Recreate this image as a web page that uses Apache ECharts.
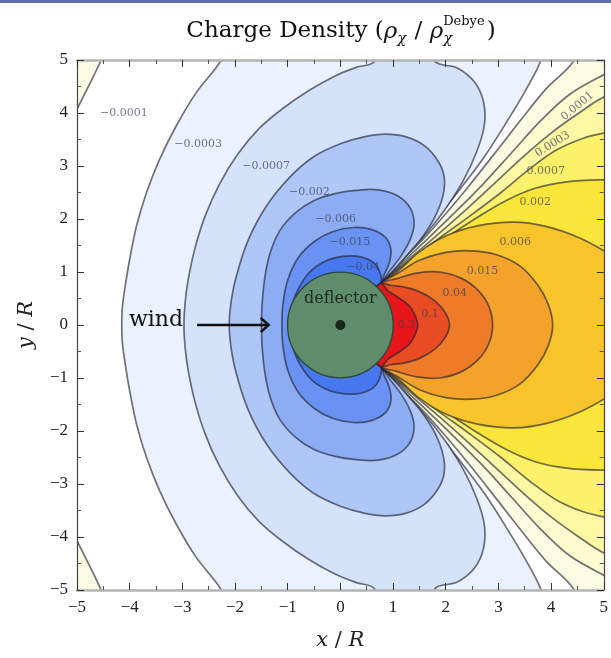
<!DOCTYPE html>
<html>
<head>
<meta charset="utf-8">
<script src="https://cdn.jsdelivr.net/npm/echarts@6/dist/echarts.min.js"></script>
<style>
  html, body { margin: 0; padding: 0; background: #ffffff; }
  #chart { width: 611px; height: 658px; }
</style>
</head>
<body>
<div id="chart"></div>
<script>
// Charge density around a deflector in a flowing wind: filled contour map.
// Each contour is stored as its upper half (y >= 0), running from the junction
// point on the deflector flank out to the x axis; the lower half is its mirror image.

const junction = [0.76, 0.78];

// negative contours (upper halves)
const cNeg0001 = [junction, [1.15, 1.2], [1.57, 1.62], [2.0, 2.1], [2.42, 2.6], [2.9, 3.2], [3.45, 3.9], [3.9, 4.45], [4.44, 5.0],
  [4.6, 5.6], [-4.3, 5.6], [-4.54, 5.0], [-5.0, 4.07], [-5.5, 3.07], [-5.6, 0]];
const cNeg0003 = [junction, [1.1, 1.2], [1.5, 1.62], [1.9, 2.1], [2.3, 2.6], [2.75, 3.2], [3.2, 3.9], [3.5, 4.4], [3.81, 5.0],
  [3.95, 5.6], [-2.0, 5.6], [-2.26, 5.0], [-2.74, 4.38], [-3.12, 3.75], [-3.43, 3.13], [-3.68, 2.5], [-3.87, 1.87],
  [-4.0, 1.24], [-4.09, 0.7], [-4.14, 0.32], [-4.15, 0]];
const cNeg0007 = [junction, [1.0, 1.05], [1.3, 1.38], [1.65, 1.75], [2.0, 2.2], [2.33, 2.72], [2.58, 3.25], [2.73, 3.75],
  [2.72, 4.2], [2.55, 4.58], [2.22, 4.85], [1.79, 4.98], [1.72, 5.6], [0.7, 5.6], [0.65, 4.98], [0.3, 4.86], [-0.1, 4.7],
  [-0.59, 4.43], [-1.1, 4.08], [-1.55, 3.7], [-1.95, 3.22], [-2.3, 2.65], [-2.57, 2.05], [-2.76, 1.45], [-2.89, 0.85],
  [-2.95, 0.4], [-2.97, 0]];
const cNeg002 = [junction, [0.98, 1.0], [1.25, 1.3], [1.55, 1.65], [1.8, 2.05], [1.95, 2.45], [1.97, 2.8], [1.85, 3.1],
  [1.6, 3.38], [1.25, 3.55], [0.85, 3.6], [0.45, 3.55], [0.0, 3.42], [-0.5, 3.18], [-0.95, 2.8], [-1.4, 2.25],
  [-1.75, 1.6], [-1.98, 0.9], [-2.08, 0.4], [-2.11, 0]];
const cNeg006 = [junction, [0.92, 1.0], [1.15, 1.3], [1.32, 1.6], [1.4, 1.9], [1.33, 2.2], [1.1, 2.43], [0.72, 2.55],
  [0.3, 2.54], [-0.1, 2.48], [-0.5, 2.35], [-0.85, 2.12], [-1.15, 1.78], [-1.35, 1.3], [-1.46, 0.7], [-1.5, 0]];
const cNeg015 = [junction, [0.83, 0.95], [0.93, 1.18], [0.96, 1.42], [0.86, 1.65], [0.6, 1.8], [0.25, 1.84], [-0.15, 1.76],
  [-0.5, 1.57], [-0.8, 1.27], [-1.0, 0.85], [-1.09, 0.4], [-1.11, 0]];
const cNeg04 = [junction, [0.74, 1.02], [0.6, 1.2], [0.3, 1.3], [-0.05, 1.28], [-0.32, 1.19], [-0.59, 0.99], [-0.82, 0.64],
  [-0.94, 0.28], [-0.97, 0]];

// positive contours (upper halves)
const cPos0001 = [junction, [1.2, 1.2], [1.65, 1.62], [2.15, 2.1], [2.7, 2.65], [3.25, 3.25], [3.8, 3.85], [4.35, 4.35], [5.0, 4.72],
  [5.6, 5.0], [5.6, 0]];
const cPos0003 = [junction, [1.25, 1.2], [1.75, 1.62], [2.3, 2.1], [2.9, 2.65], [3.5, 3.2], [4.0, 3.62], [4.5, 3.98], [5.0, 4.3],
  [5.6, 4.5], [5.6, 0]];
const cPos0007 = [junction, [1.3, 1.2], [1.85, 1.62], [2.45, 2.05], [3.05, 2.5], [3.6, 2.95], [4.1, 3.3], [4.6, 3.52], [5.0, 3.62],
  [5.6, 3.7], [5.6, 0]];
const cPos002 = [junction, [1.35, 1.15], [1.95, 1.6], [2.55, 2.0], [3.15, 2.35], [3.7, 2.58], [4.3, 2.7], [5.0, 2.74],
  [5.6, 2.74], [5.6, 0]];
const cPos006 = [junction, [1.1, 1.02], [1.5, 1.38], [2.0, 1.68], [2.6, 1.87], [3.3, 1.94], [3.9, 1.86], [4.5, 1.66], [5.0, 1.4],
  [5.6, 1.0], [5.6, 0]];
const cPos015 = [junction, [1.1, 0.98], [1.5, 1.22], [2.0, 1.37], [2.5, 1.4], [2.95, 1.33], [3.4, 1.12], [3.75, 0.75],
  [3.95, 0.38], [4.03, 0]];
const cPos04 = [junction, [1.05, 0.87], [1.45, 0.98], [1.88, 1.0], [2.3, 0.88], [2.62, 0.65], [2.82, 0.35], [2.89, 0]];
const cPos1 = [junction, [0.95, 0.75], [1.2, 0.72], [1.5, 0.63], [1.8, 0.45], [2.0, 0.22], [2.07, 0]];
const cPos3 = [junction, [0.9, 0.65], [1.1, 0.52], [1.3, 0.37], [1.42, 0.18], [1.47, 0]];

// band fills: region beyond each contour level
const neutralFill = '#fbfae2';
const negFills = ['#ffffff', '#ebf2fd', '#d4e2fa', '#afc7f7', '#8cadf4', '#6992f2', '#4878ef'];
const posFills = ['#fdfbd0', '#fcf7a2', '#fbf26a', '#fae63a', '#f7c42c', '#f3a22c', '#ee7b28', '#e84c22', '#e6161b'];

// contour labels: x, y, text, rotation (deg)
const contourLabels = [
  [-4.11, 4.0, '−0.0001', 0], [-2.70, 3.41, '−0.0003', 0], [-1.41, 3.0, '−0.0007', 0], [-0.59, 2.5, '−0.002', 0],
  [-0.09, 2.0, '−0.006', 0], [0.18, 1.56, '−0.015', 0], [0.43, 1.10, '−0.04', 0],
  [4.5, 4.13, '0.0001', 40], [4.03, 3.41, '0.0003', 32], [3.90, 2.9, '0.0007', 0], [3.70, 2.31, '0.002', 0],
  [3.32, 1.56, '0.006', 0], [2.70, 1.02, '0.015', 0], [2.17, 0.61, '0.04', 0], [1.70, 0.20, '0.1', 0], [1.25, 0.0, '0.3', 0]
];

// deflector: centre x, centre y, radius
const deflector = [0, 0, 1];
const deflectorText = [0, 0.5, 'deflector'];
// incoming wind arrow and its label
const windArrow = [[-2.72, 0], [-1.36, 0]];
const windText = [-3.5, 0.08, 'wind'];

const negContours = [cNeg0001, cNeg0003, cNeg0007, cNeg002, cNeg006, cNeg015, cNeg04];
const posContours = [cPos0001, cPos0003, cPos0007, cPos002, cPos006, cPos015, cPos04, cPos1, cPos3];

function fullLoop(upper) {
  const lower = upper.slice(0, -1).reverse().map(p => [p[0], -p[1]]);
  return upper.concat(lower, [[0, 0]]);
}

const bands = [];
negContours.forEach((c, i) => bands.push({ pts: fullLoop(c), fill: negFills[i] }));
posContours.forEach((c, i) => bands.push({ pts: fullLoop(c), fill: posFills[i] }));

const serif = '"DejaVu Serif", "Liberation Serif", serif';
const tickFont = '"Liberation Serif", serif';
const lineColor = 'rgba(35,35,50,0.64)';

// title: Charge Density (ρ_χ / ρ_χ^Debye), laid out piece by piece
const measureCtx = document.createElement('canvas').getContext('2d');
function textWidth(str, font) { measureCtx.font = font; return measureCtx.measureText(str).width; }
const fMain = '23px ' + serif, fItal = 'italic 23px ' + serif, fSub = 'italic 15px ' + serif, fSup = '13px ' + serif;
const titleParts = [];
(function layoutTitle() {
  const cx = 341, cy = 31;
  const wA = textWidth('Charge Density (', fMain);
  const wRho = textWidth('ρ', fItal);
  const wChi = textWidth('χ', fSub);
  const wSlash = textWidth(' / ', fMain);
  const wDebye = textWidth('Debye', fSup);
  const wClose = textWidth(')', fMain);
  const total = wA + wRho + wChi + 1 + wSlash + wRho + Math.max(wChi, wDebye) + 2 + wClose;
  let x = cx - total / 2;
  const put = (text, font, dy) => titleParts.push({ type: 'text', x: x, y: cy + dy,
    style: { text: text, font: font, fill: '#111', verticalAlign: 'middle' } });
  put('Charge Density (', fMain, 0); x += wA;
  put('ρ', fItal, 1); x += wRho;
  put('χ', fSub, 8); x += wChi + 1;
  put(' / ', fMain, 0); x += wSlash;
  put('ρ', fItal, 1); x += wRho;
  put('χ', fSub, 8); put('Debye', fSup, -9); x += Math.max(wChi, wDebye) + 2;
  put(')', fMain, 0);
})();

const chart = echarts.init(document.getElementById('chart'), null, { renderer: 'canvas' });

const minusFmt = v => (v < 0 ? '−' + (-v) : String(v));

const baseAxis = {
  type: 'value', min: -5, max: 5, interval: 1, z: 10,
  splitLine: { show: false },
  axisTick: { show: true, inside: true, length: 7, lineStyle: { color: '#333', width: 1 } },
  minorTick: { show: true, splitNumber: 2, length: 4, lineStyle: { color: '#555', width: 1 } },
  minorSplitLine: { show: false }
};

chart.setOption({
  animation: false,
  backgroundColor: '#ffffff',
  grid: { left: 77, right: 7, top: 60, bottom: 68, show: true, backgroundColor: neutralFill, borderWidth: 0 },
  xAxis: [
    Object.assign({}, baseAxis, {
      position: 'bottom',
      axisLine: { show: true, onZero: false, lineStyle: { color: '#b4b4b4', width: 2.5 } },
      axisLabel: { formatter: minusFmt, fontFamily: tickFont, fontSize: 17, color: '#222', margin: 9 },
      name: '{i|x} / {i|R}', nameLocation: 'middle', nameGap: 40,
      nameTextStyle: { fontFamily: serif, fontSize: 21, color: '#222',
        rich: { i: { fontFamily: serif, fontStyle: 'italic', fontSize: 21, color: '#222' } } }
    }),
    Object.assign({}, baseAxis, {
      position: 'top',
      axisLine: { show: true, onZero: false, lineStyle: { color: '#b4b4b4', width: 2.5 } },
      axisLabel: { show: false }
    })
  ],
  yAxis: [
    Object.assign({}, baseAxis, {
      position: 'left',
      axisLine: { show: true, onZero: false, lineStyle: { color: '#444', width: 1.2 } },
      axisLabel: { formatter: minusFmt, fontFamily: tickFont, fontSize: 17, color: '#222', margin: 9 },
      name: '{i|y} / {i|R}', nameLocation: 'middle', nameGap: 40, nameRotate: 90,
      nameTextStyle: { fontFamily: serif, fontSize: 21, color: '#222',
        rich: { i: { fontFamily: serif, fontStyle: 'italic', fontSize: 21, color: '#222' } } }
    }),
    Object.assign({}, baseAxis, {
      position: 'right',
      axisLine: { show: true, onZero: false, lineStyle: { color: '#444', width: 1.2 } },
      axisLabel: { show: false }
    })
  ],
  graphic: [{ type: 'rect', shape: { x: 0, y: 0, width: 611, height: 3 }, style: { fill: '#5d6cab' } }].concat(titleParts),
  series: [
    {
      type: 'custom', coordinateSystem: 'cartesian2d', xAxisIndex: 0, yAxisIndex: 0, clip: true, z: 2,
      data: bands.map((b, i) => [0, 0, i]),
      renderItem: function (params, api) {
        const b = bands[params.dataIndex];
        return {
          type: 'polygon',
          shape: { points: b.pts.map(p => api.coord(p)), smooth: 0.35 },
          style: { fill: b.fill, stroke: lineColor, lineWidth: 1.7 }
        };
      }
    },
    {
      type: 'custom', coordinateSystem: 'cartesian2d', clip: true, z: 4,
      data: contourLabels.map(l => [l[0], l[1]]),
      renderItem: function (params, api) {
        const l = contourLabels[params.dataIndex];
        const c = api.coord([l[0], l[1]]);
        return {
          type: 'text', x: c[0], y: c[1], rotation: l[3] * Math.PI / 180,
          style: { text: l[2], font: '11px ' + serif, fill: 'rgba(60,62,90,0.72)', align: 'center', verticalAlign: 'middle' }
        };
      }
    },
    {
      type: 'custom', coordinateSystem: 'cartesian2d', clip: false, z: 6,
      data: [deflector],
      renderItem: function (params, api) {
        const c = api.coord([deflector[0], deflector[1]]);
        const r = api.size([deflector[2], deflector[2]]);
        const t = api.coord([deflectorText[0], deflectorText[1]]);
        return {
          type: 'group', children: [
            { type: 'circle', shape: { cx: c[0], cy: c[1], r: (r[0] + r[1]) / 2 },
              style: { fill: '#5f8d6b', stroke: '#2e4a36', lineWidth: 1.4 } },
            { type: 'circle', shape: { cx: c[0], cy: c[1], r: 5 }, style: { fill: '#17261b' } },
            { type: 'text', x: t[0], y: t[1],
              style: { text: deflectorText[2], font: '16px ' + serif, fill: '#1d2c21', align: 'center', verticalAlign: 'middle' } }
          ]
        };
      }
    },
    {
      type: 'custom', coordinateSystem: 'cartesian2d', clip: false, z: 7,
      data: [windArrow[0]],
      renderItem: function (params, api) {
        const a = api.coord(windArrow[0]);
        const b = api.coord(windArrow[1]);
        const t = api.coord([windText[0], windText[1]]);
        return {
          type: 'group', children: [
            { type: 'line', shape: { x1: a[0], y1: a[1], x2: b[0] - 1, y2: b[1] }, style: { stroke: '#111', lineWidth: 2.4 } },
            { type: 'polyline', shape: { points: [[b[0] - 8, b[1] - 7], [b[0], b[1]], [b[0] - 8, b[1] + 7]] },
              style: { stroke: '#111', lineWidth: 2.4, fill: null } },
            { type: 'text', x: t[0], y: t[1],
              style: { text: windText[2], font: '22px ' + serif, fill: '#111', align: 'center', verticalAlign: 'middle' } }
          ]
        };
      }
    }
  ]
});
</script>
</body>
</html>
